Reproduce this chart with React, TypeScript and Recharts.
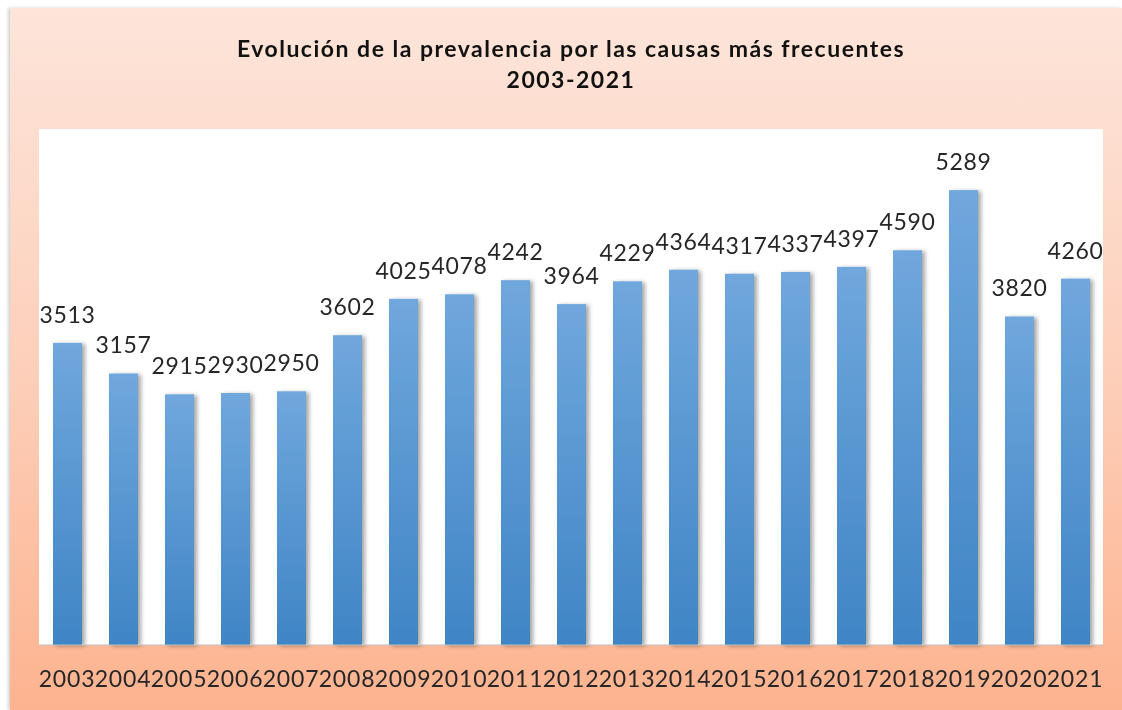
import { BarChart, Bar, XAxis, YAxis, CartesianGrid, LabelList } from 'recharts';

const years = [
  '2003', '2004', '2005', '2006', '2007', '2008', '2009', '2010', '2011', '2012',
  '2013', '2014', '2015', '2016', '2017', '2018', '2019', '2020', '2021',
];

const prevalence = [
  3513, 3157, 2915, 2930, 2950, 3602, 4025, 4078, 4242, 3964,
  4229, 4364, 4317, 4337, 4397, 4590, 5289, 3820, 4260,
];

const titleLines = ['Evolución de la prevalencia por las causas más frecuentes', '2003-2021'];

const chartData = years.map((year, i) => ({ year, value: prevalence[i] }));

const FONT = 'Lato, "Open Sans", sans-serif';

// bar with the soft shadow on its right side
const ShadowBar = (props: any) => {
  const { x, y, width, height } = props;
  if (!height || height <= 0) return null;
  return (
    <rect
      x={x}
      y={y}
      width={width}
      height={height}
      fill="url(#barGradient)"
      filter="url(#barShadow)"
    />
  );
};

export default function App() {
  return (
    <div
      style={{
        position: 'fixed',
        left: 10,
        top: 8,
        right: 0,
        bottom: 0,
        background: 'linear-gradient(to bottom, #fde5da 0%, #fdd0bb 50%, #fdb38f 100%)',
        boxShadow: '-2px 0 3px rgba(0,0,0,0.18)',
        fontFamily: FONT,
      }}
    >
      <style>{'html, body { overflow: hidden; }'}</style>
      <div
        style={{
          position: 'absolute',
          left: 0,
          top: 25,
          width: 1122,
          textAlign: 'center',
          fontWeight: 700,
          fontSize: 23,
          letterSpacing: 1.5,
          lineHeight: '31px',
          color: '#111',
        }}
      >
        {titleLines.map((line) => (
          <div key={line}>{line}</div>
        ))}
      </div>
      <div style={{ position: 'absolute', left: 0, top: 0 }}>
        <BarChart
          width={1112}
          height={702}
          data={chartData}
          margin={{ top: 121, right: 19, left: 29, bottom: 0 }}
        >
          <defs>
            <linearGradient id="barGradient" x1="0" y1="0" x2="0" y2="1">
              <stop offset="0%" stopColor="#70a7dd" />
              <stop offset="100%" stopColor="#3f85c5" />
            </linearGradient>
            <filter id="barShadow" x="-30%" y="-10%" width="160%" height="120%">
              <feDropShadow dx="3" dy="1" stdDeviation="2" floodColor="#000" floodOpacity="0.35" />
            </filter>
          </defs>
          <CartesianGrid fill="#ffffff" horizontal={false} vertical={false} />
          <XAxis
            dataKey="year"
            interval={0}
            height={65}
            tickSize={0}
            tickMargin={26}
            tickLine={false}
            axisLine={{ stroke: '#bfbfbf', strokeWidth: 1 }}
            tick={{ fontSize: 23, fill: '#262626', fontFamily: FONT, letterSpacing: 0.8 }}
          />
          <YAxis hide domain={[0, 6000]} />
          <Bar
            dataKey="value"
            barSize={29}
            shape={ShadowBar}
            isAnimationActive={false}
          >
            <LabelList
              dataKey="value"
              position="top"
              offset={20}
              style={{ fontSize: 23, fill: '#262626', fontFamily: FONT, letterSpacing: 0.6 }}
            />
          </Bar>
        </BarChart>
      </div>
    </div>
  );
}
